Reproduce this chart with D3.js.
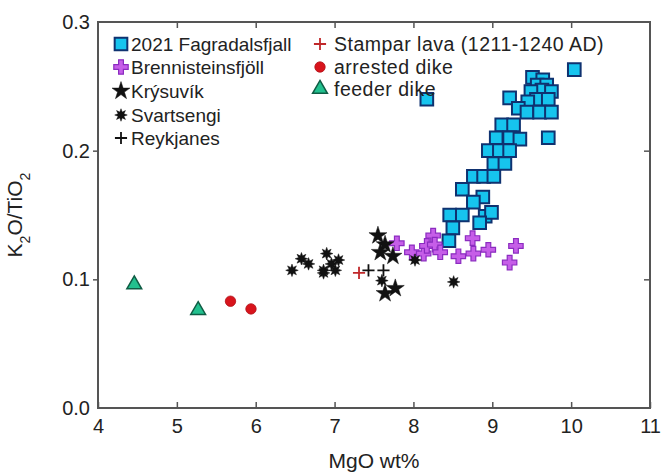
<!DOCTYPE html>
<html>
<head>
<meta charset="utf-8">
<script src="https://cdn.jsdelivr.net/npm/d3@7"></script>
<style>
  body { margin: 0; background: #fff; }
  text { font-family: "Liberation Sans", Arial, sans-serif; fill: #222; }
</style>
</head>
<body>
<svg id="canvas"></svg>
<script>
// MgO wt% vs K2O/TiO2
var fagradalsfjall = [
  [10.04, 0.263], [9.51, 0.257], [9.64, 0.255], [9.57, 0.251], [9.69, 0.251],
  [9.63, 0.247], [9.75, 0.246], [9.49, 0.246], [9.56, 0.240], [9.71, 0.240],
  [9.45, 0.238], [9.22, 0.241], [9.33, 0.233], [9.44, 0.230], [9.60, 0.230],
  [9.75, 0.230], [8.17, 0.240], [9.71, 0.210], [9.12, 0.220], [9.27, 0.220],
  [9.05, 0.210], [9.22, 0.210], [9.35, 0.209], [8.95, 0.200], [9.09, 0.200],
  [9.22, 0.200], [9.02, 0.190], [9.16, 0.190], [8.76, 0.180], [8.89, 0.180],
  [9.02, 0.180], [8.62, 0.170], [8.88, 0.164], [8.76, 0.160], [8.91, 0.149],
  [8.99, 0.152], [8.46, 0.150], [8.62, 0.150], [8.84, 0.144], [8.50, 0.140],
  [8.45, 0.130]
];
var brennisteinsfjoll = [
  [7.79, 0.128], [7.98, 0.121], [8.13, 0.120], [8.17, 0.126], [8.25, 0.134],
  [8.27, 0.127], [8.34, 0.121], [8.57, 0.118], [8.75, 0.132], [8.76, 0.120],
  [8.95, 0.123], [9.30, 0.126], [9.22, 0.113]
];
var krysuvik = [
  [7.55, 0.134], [7.64, 0.127], [7.58, 0.121], [7.74, 0.118], [7.64, 0.089],
  [7.77, 0.093]
];
var svartsengi = [
  [6.46, 0.107], [6.58, 0.116], [6.67, 0.112], [6.86, 0.107], [6.90, 0.120],
  [6.96, 0.112], [7.01, 0.107], [6.86, 0.105], [7.05, 0.115], [7.60, 0.099],
  [8.02, 0.115], [8.51, 0.098]
];
var reykjanes = [[7.43, 0.107], [7.62, 0.107]];
var stampar = [[7.31, 0.105]];
var arrestedDike = [[5.68, 0.083], [5.94, 0.077]];
var feederDike = [[4.46, 0.096], [5.27, 0.076]];

var xTicks = [4, 5, 6, 7, 8, 9, 10, 11];
var yTicks = [0.0, 0.1, 0.2, 0.3];

// 8-point asterisk-like star for Svartsengi
var symbolAsterisk = {
  draw: function(context, size) {
    var r = Math.sqrt(size) * 0.75, ri = r * 0.5, n = 8;
    for (var i = 0; i < n * 2; i++) {
      var a = Math.PI * i / n - Math.PI / 2;
      var rr = i % 2 ? ri : r;
      if (i === 0) context.moveTo(rr * Math.cos(a), rr * Math.sin(a));
      else context.lineTo(rr * Math.cos(a), rr * Math.sin(a));
    }
    context.closePath();
  }
};

var series = [
  {name: "2021 Fagradalsfjall", data: fagradalsfjall, type: d3.symbolSquare, size: 160, fill: "#16c4ee", stroke: "#0f3270", sw: 2},
  {name: "Brennisteinsfjöll", data: brennisteinsfjoll, type: d3.symbolCross, size: 115, fill: "#c65ee8", stroke: "#8b2cc0", sw: 1.2},
  {name: "Krýsuvík", data: krysuvik, type: d3.symbolStar, size: 100, fill: "#111", stroke: "#111", sw: 0.5},
  {name: "Svartsengi", data: svartsengi, type: symbolAsterisk, size: 70, fill: "#111", stroke: "#111", sw: 0.5},
  {name: "Reykjanes", data: reykjanes, type: d3.symbolPlus, size: 50, fill: "none", stroke: "#111", sw: 1.8},
  {name: "Stampar lava (1211-1240 AD)", data: stampar, type: d3.symbolPlus, size: 50, fill: "none", stroke: "#c0282a", sw: 1.8},
  {name: "arrested dike", data: arrestedDike, type: d3.symbolCircle, size: 85, fill: "#d8141c", stroke: "#b01018", sw: 0.8},
  {name: "feeder dike", data: feederDike, type: d3.symbolTriangle, size: 95, fill: "#22c08e", stroke: "#0f5c44", sw: 1.5}
];

var margin = {top: 22, right: 17, bottom: 66, left: 98};
var totalW = 667, totalH = 474;
var width = totalW - margin.left - margin.right;
var height = totalH - margin.top - margin.bottom;

var svg = d3.select("#canvas")
    .attr("width", totalW)
    .attr("height", totalH)
  .append("g")
    .attr("transform", "translate(" + margin.left + "," + margin.top + ")");

var x = d3.scaleLinear().domain([4, 11]).range([0, width]);
var y = d3.scaleLinear().domain([0, 0.3]).range([height, 0]);

// frame
svg.append("rect")
  .attr("width", width).attr("height", height)
  .attr("fill", "none").attr("stroke", "#555").attr("stroke-width", 2);

// bottom axis, ticks inside
svg.append("g")
  .attr("transform", "translate(0," + height + ")")
  .call(d3.axisBottom(x).tickValues(xTicks).tickSize(-6).tickPadding(11).tickFormat(d3.format("d")))
  .call(function(g) {
    g.select(".domain").remove();
    g.selectAll("line").attr("stroke", "#555").attr("stroke-width", 1.5);
    g.selectAll("text").style("font-size", "20px").attr("fill", "#222");
  });

// top ticks, inside
svg.append("g")
  .call(d3.axisTop(x).tickValues(xTicks.slice(1, -1)).tickSize(-6).tickFormat(""))
  .call(function(g) {
    g.select(".domain").remove();
    g.selectAll("line").attr("stroke", "#555").attr("stroke-width", 1.5);
  });

// left axis, ticks outside
svg.append("g")
  .call(d3.axisLeft(y).tickValues(yTicks).tickSize(5).tickPadding(3).tickFormat(d3.format(".1f")))
  .call(function(g) {
    g.select(".domain").remove();
    g.selectAll("line").attr("stroke", "#555").attr("stroke-width", 1.5)
      .attr("x2", function(d) { return (d === 0 || d === 0.3) ? 0 : -5; });
    g.selectAll("text").style("font-size", "20px").attr("fill", "#222");
  });

// right ticks, inside
svg.append("g")
  .attr("transform", "translate(" + width + ",0)")
  .call(d3.axisRight(y).tickValues([0.1, 0.2]).tickSize(-6).tickFormat(""))
  .call(function(g) {
    g.select(".domain").remove();
    g.selectAll("line").attr("stroke", "#555").attr("stroke-width", 1.5);
  });

// axis titles
svg.append("text")
  .attr("x", width / 2).attr("y", height + 60)
  .attr("text-anchor", "middle")
  .style("font-size", "21px")
  .text("MgO wt%");

var yl = svg.append("text")
  .attr("transform", "translate(-76," + (height / 2) + ") rotate(-90)")
  .attr("text-anchor", "middle")
  .style("font-size", "21px");
yl.append("tspan").text("K");
yl.append("tspan").attr("baseline-shift", "sub").style("font-size", "14px").text("2");
yl.append("tspan").text("O/TiO");
yl.append("tspan").attr("baseline-shift", "sub").style("font-size", "14px").text("2");

// points
series.forEach(function(s) {
  var sym = d3.symbol().type(s.type).size(s.size);
  svg.append("g").selectAll("path")
    .data(s.data)
    .enter().append("path")
      .attr("d", sym)
      .attr("transform", function(d) { return "translate(" + x(d[0]) + "," + y(d[1]) + ")"; })
      .attr("fill", s.fill)
      .attr("stroke", s.stroke)
      .attr("stroke-width", s.sw);
});

// legend
var legendPos = [
  [23, 22], [23, 45], [23, 69], [23, 93], [23, 116],
  [222, 22], [222, 45], [222, 67]
];
var legend = svg.selectAll(".legend")
    .data(series)
  .enter().append("g")
    .attr("class", "legend")
    .attr("transform", function(d, i) { return "translate(" + legendPos[i][0] + "," + legendPos[i][1] + ")"; });

legend.append("path")
  .attr("d", function(d) { return d3.symbol().type(d.type).size(d.size)(); })
  .attr("fill", function(d) { return d.fill; })
  .attr("stroke", function(d) { return d.stroke; })
  .attr("stroke-width", function(d) { return d.sw; });

legend.append("text")
  .attr("x", function(d, i) { return i < 5 ? 10 : 14; })
  .attr("dy", "0.36em")
  .style("font-size", function(d, i) { return i < 5 ? "19px" : "19.5px"; })
  .style("letter-spacing", function(d, i) { return i < 5 ? "0px" : "0.5px"; })
  .text(function(d) { return d.name; });
</script>
</body>
</html>
